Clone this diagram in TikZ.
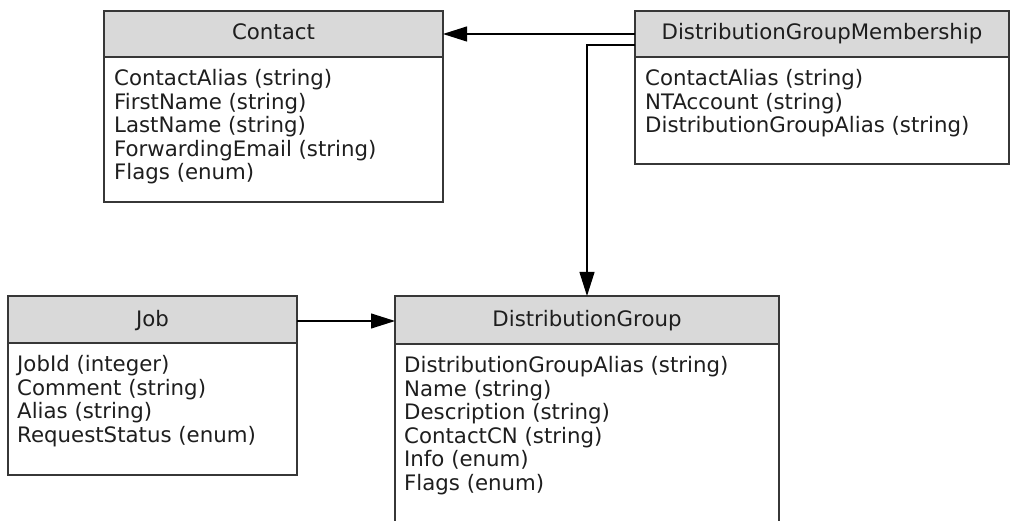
\documentclass[tikz,border=0pt]{standalone}
\usepackage{fontspec}
\setmainfont{DejaVu Sans}
\usetikzlibrary{arrows.meta}
\definecolor{hdr}{RGB}{217,217,217}
\definecolor{brd}{RGB}{55,55,55}
\definecolor{txt}{RGB}{30,30,30}
\begin{document}
\begin{tikzpicture}[x=1pt,y=-1pt,
  hdrbox/.style={draw=brd,fill=hdr,line width=1.3pt,inner sep=0pt,outer sep=0pt,anchor=north west},
  bodybox/.style={draw=brd,fill=white,line width=1.3pt,inner sep=0pt,outer sep=0pt,anchor=north west},
  title/.style={font=\fontsize{21.3}{23.4}\selectfont,text=txt,anchor=base,inner sep=0pt},
  attr/.style={font=\fontsize{21.3}{23.4}\selectfont,text=txt,anchor=base west,inner sep=0pt},
  link/.style={draw=black,line width=1.1pt,-{Triangle[length=24pt,width=15pt]}}]
\useasboundingbox (0,0) rectangle (1010,521);
\clip (0,0) rectangle (1010,521);

% Contact
\node[bodybox,minimum width=339pt,minimum height=145pt] (contactB) at (104,57) {};
\node[hdrbox,minimum width=339pt,minimum height=46pt] (contactH) at (104,11) {};
\node[title] (contactT) at (273.5,40) {Contact};
\foreach \t [count=\i] in {ContactAlias (string),FirstName (string),LastName (string),ForwardingEmail (string),Flags (enum)}
  \node[attr] (contactA\i) at (114,{86+23.4*(\i-1)}) {\t};

% DistributionGroupMembership
\node[bodybox,minimum width=374pt,minimum height=107pt] (dgmB) at (635,57) {};
\node[hdrbox,minimum width=374pt,minimum height=46pt] (dgmH) at (635,11) {};
\node[title] (dgmT) at (822,40) {DistributionGroupMembership};
\foreach \t [count=\i] in {ContactAlias (string),NTAccount (string),DistributionGroupAlias (string)}
  \node[attr] (dgmA\i) at (645,{86+23.4*(\i-1)}) {\t};

% Job
\node[bodybox,minimum width=289pt,minimum height=132pt] (jobB) at (8,343) {};
\node[hdrbox,minimum width=289pt,minimum height=47pt] (jobH) at (8,296) {};
\node[title] (jobT) at (152.5,327) {Job};
\foreach \t [count=\i] in {JobId (integer),Comment (string),Alias (string),RequestStatus (enum)}
  \node[attr] (jobA\i) at (17,{372+23.4*(\i-1)}) {\t};

% DistributionGroup
\node[bodybox,minimum width=384pt,minimum height=200pt] (dgB) at (395,344) {};
\node[hdrbox,minimum width=384pt,minimum height=48pt] (dgH) at (395,296) {};
\node[title] (dgT) at (587,327) {DistributionGroup};
\foreach \t [count=\i] in {DistributionGroupAlias (string),Name (string),Description (string),ContactCN (string),Info (enum),Flags (enum)}
  \node[attr] (dgA\i) at (404,{373+23.4*(\i-1)}) {\t};

% connectors
\draw[link] (dgmH.west) -- (contactH.east);
\draw[link] ([yshift=-11pt]dgmH.west) -| (dgH.north);
\draw[link] (jobH.east |- 0,321) -- (dgH.west |- 0,321);
\end{tikzpicture}
\end{document}
